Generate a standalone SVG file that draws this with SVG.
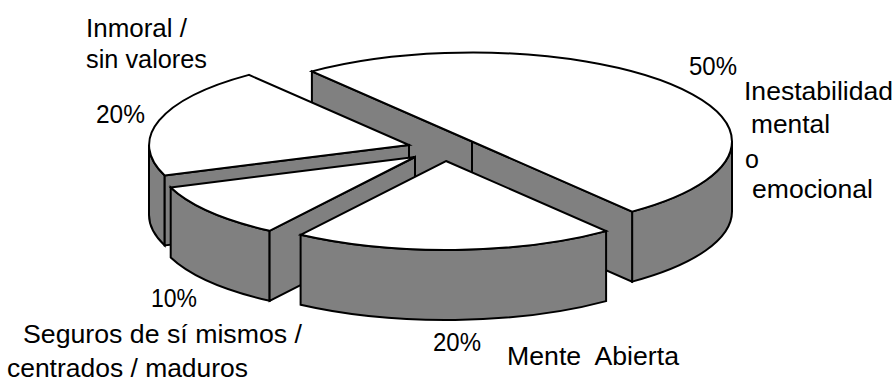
<svg xmlns="http://www.w3.org/2000/svg" width="896" height="382" viewBox="0 0 896 382">
  <style>
    .side { fill: #808080; stroke: #000; stroke-width: 2; stroke-linejoin: miter; }
    .top { fill: #fff; stroke: #000; stroke-width: 2; stroke-linejoin: miter; }
    .edge { fill: none; stroke: #000; stroke-width: 2; }
    text { font-family: "Liberation Sans", Arial, sans-serif; font-size: 25px; fill: #000; }
  </style>
  <rect width="896" height="382" fill="#fff"/>

  <g id="slice-inestabilidad">
    <path class="side" d="M732,141.5 A260,89 0 0 1 632.1,211.6 L632.1,281.6 A260,89 0 0 0 732,211.5 Z"/>
    <path class="side" d="M311.9,71.4 L632.1,211.6 L632.1,281.6 L311.9,141.4 Z"/>
    <line class="edge" x1="472" y1="141.5" x2="472" y2="211.5"/>
    <path class="top" d="M311.9,71.4 A260,89 0 0 1 732,141.5 A260,89 0 0 1 632.1,211.6 L472,141.5 Z"/>
  </g>

  <g id="slice-inmoral">
    <path class="side" d="M149,145 A260,89 0 0 0 164.7,175.4 L164.7,245.4 A260,89 0 0 1 149,215 Z"/>
    <path class="side" d="M409,145 L164.7,175.4 L164.7,245.4 L409,215 Z"/>
    <path class="top" d="M409,145 L164.7,175.4 A260,89 0 0 1 248.9,74.9 Z"/>
  </g>

  <g id="slice-seguros">
    <path class="side" d="M269.6,230.8 A260,89 0 0 1 170.7,187.4 L170.7,257.4 A260,89 0 0 0 269.6,300.8 Z"/>
    <path class="side" d="M415,157 L269.6,230.8 L269.6,300.8 L415,227 Z"/>
    <path class="top" d="M415,157 L269.6,230.8 A260,89 0 0 1 170.7,187.4 Z"/>
  </g>

  <g id="slice-mente-abierta">
    <path class="side" d="M606.1,231.1 A260,89 0 0 1 300.6,234.8 L300.6,304.8 A260,89 0 0 0 606.1,301.1 Z"/>
    <path class="top" d="M446,161 L606.1,231.1 A260,89 0 0 1 300.6,234.8 Z"/>
  </g>

  <g id="labels">
    <g id="label-inmoral">
      <text x="86" y="37" textLength="101" lengthAdjust="spacingAndGlyphs">Inmoral /</text>
      <text x="86" y="68" textLength="121" lengthAdjust="spacingAndGlyphs">sin valores</text>
      <text x="96" y="123" textLength="49" lengthAdjust="spacingAndGlyphs">20%</text>
    </g>
    <g id="label-inestabilidad">
      <text x="689" y="75" textLength="48" lengthAdjust="spacingAndGlyphs">50%</text>
      <text x="744" y="100" textLength="149" lengthAdjust="spacingAndGlyphs">Inestabilidad</text>
      <text x="751" y="133" textLength="79" lengthAdjust="spacingAndGlyphs">mental</text>
      <text x="745" y="168">o</text>
      <text x="752" y="198" textLength="121" lengthAdjust="spacingAndGlyphs">emocional</text>
    </g>
    <g id="label-seguros">
      <text x="151" y="307" textLength="46" lengthAdjust="spacingAndGlyphs">10%</text>
      <text x="23" y="343" textLength="279" lengthAdjust="spacingAndGlyphs">Seguros de sí mismos /</text>
      <text x="7" y="377" textLength="241" lengthAdjust="spacingAndGlyphs">centrados / maduros</text>
    </g>
    <g id="label-mente-abierta">
      <text x="433" y="351" textLength="48" lengthAdjust="spacingAndGlyphs">20%</text>
      <text x="507" y="365" textLength="172" lengthAdjust="spacingAndGlyphs" xml:space="preserve">Mente  Abierta</text>
    </g>
  </g>
</svg>
